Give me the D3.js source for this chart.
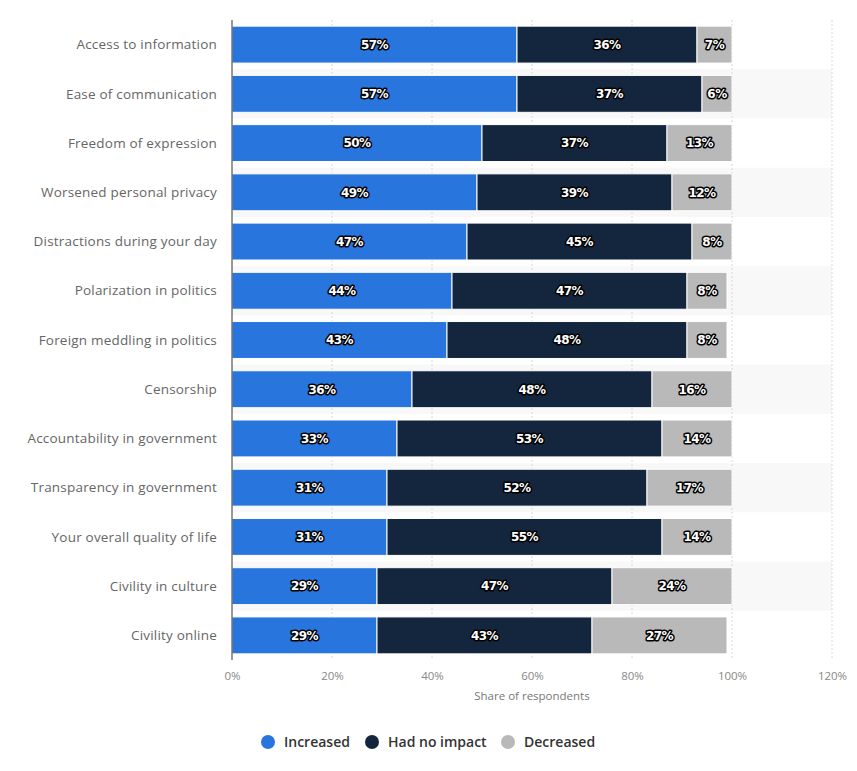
<!DOCTYPE html>
<html>
<head>
<meta charset="utf-8">
<script src="https://cdn.jsdelivr.net/npm/d3@7"></script>
<style>
  body { margin: 0; background: #fff; }
  .bar-label { font-family: "DejaVu Sans", sans-serif; font-weight: bold; font-size: 12px; fill: #fff;
    paint-order: stroke; stroke: #000; stroke-width: 3px; stroke-linejoin: round; letter-spacing: -0.5px; }
</style>
</head>
<body>
<div id="chart"></div>
<script>
const categories = ["Access to information", "Ease of communication", "Freedom of expression",
  "Worsened personal privacy", "Distractions during your day", "Polarization in politics",
  "Foreign meddling in politics", "Censorship", "Accountability in government",
  "Transparency in government", "Your overall quality of life", "Civility in culture", "Civility online"];
const increased = [57, 57, 50, 49, 47, 44, 43, 36, 33, 31, 31, 29, 29];
const noImpact = [36, 37, 37, 39, 45, 47, 48, 48, 53, 52, 55, 47, 43];
const decreased = [7, 6, 13, 12, 8, 8, 8, 16, 14, 17, 14, 24, 27];
const seriesNames = ["Increased", "Had no impact", "Decreased"];
const seriesColors = ["#2876dd", "#14263d", "#b9b9b9"];
const xTicks = [0, 20, 40, 60, 80, 100, 120];

const width = 857, height = 771;
const margin = { top: 20, right: 25, bottom: 111, left: 232 };
const innerW = width - margin.left - margin.right;
const innerH = height - margin.top - margin.bottom;

const rows = categories.map((c, i) => ({ name: c, inc: increased[i], none: noImpact[i], dec: decreased[i] }));
const stack = d3.stack().keys(["inc", "none", "dec"])(rows);

const svg = d3.select("#chart").append("svg")
  .attr("width", width).attr("height", height);
const g = svg.append("g").attr("transform", `translate(${margin.left},${margin.top})`);

const x = d3.scaleLinear().domain([0, 120]).range([0, innerW]);
const y = d3.scaleBand().domain(categories).range([0, innerH]).paddingInner(0.25).paddingOuter(0.125);
const rowStep = y.step();

// alternating row bands
g.selectAll(".band").data(categories.filter((d, i) => i % 2 == 1)).enter().append("rect")
  .attr("x", 0).attr("width", x(120))
  .attr("y", d => y(d) - y.step() * y.paddingInner() / 2)
  .attr("height", rowStep)
  .attr("fill", "#f8f8f8");

// grid
g.selectAll(".grid").data(xTicks.slice(1)).enter().append("line")
  .attr("x1", d => x(d)).attr("x2", d => x(d))
  .attr("y1", 0).attr("y2", innerH)
  .attr("stroke", "#d8d8d8").attr("stroke-dasharray", "2,2");

// bars
stack.forEach((layer, si) => {
  g.selectAll(".bar" + si).data(layer).enter().append("rect")
    .attr("x", d => x(d[0]))
    .attr("y", d => y(d.data.name))
    .attr("width", d => x(d[1]) - x(d[0]))
    .attr("height", y.bandwidth())
    .attr("fill", seriesColors[si])
    .attr("stroke", "#fff").attr("stroke-width", 1);
  g.selectAll(".lab" + si).data(layer).enter().append("text")
    .attr("class", "bar-label")
    .attr("x", d => x((d[0] + d[1]) / 2))
    .attr("y", d => y(d.data.name) + y.bandwidth() / 2)
    .attr("dy", "0.36em")
    .attr("text-anchor", "middle")
    .text(d => (d[1] - d[0]) + "%");
});

// y axis line + labels
g.append("line").attr("x1", 0).attr("x2", 0).attr("y1", 0).attr("y2", innerH)
  .attr("stroke", "#333").attr("stroke-width", 1);
g.selectAll(".cat").data(categories).enter().append("text")
  .attr("x", -15)
  .attr("y", d => y(d) + y.bandwidth() / 2)
  .attr("dy", "0.35em")
  .attr("text-anchor", "end")
  .attr("font-family", "'Open Sans', sans-serif")
  .attr("font-size", 13.5)
  .attr("letter-spacing", 0.2)
  .attr("fill", "#666")
  .text(d => d);

// x axis
const xAxis = g.append("g").attr("transform", `translate(0,${innerH})`)
  .call(d3.axisBottom(x).tickValues(xTicks).tickFormat(d => d + "%").tickSize(0).tickPadding(12));
xAxis.select(".domain").remove();
xAxis.selectAll("text").attr("font-family", "'Open Sans', sans-serif").attr("font-size", 11.5).attr("fill", "#888");

g.append("text")
  .attr("x", x(60)).attr("y", innerH + 40)
  .attr("text-anchor", "middle")
  .attr("font-family", "'Open Sans', sans-serif").attr("font-size", 11.5).attr("fill", "#777")
  .text("Share of respondents");

// legend
const legendX = [268, 372, 508];
const legend = svg.append("g").attr("transform", "translate(0,742)");
seriesNames.forEach((s, i) => {
  const lg = legend.append("g").attr("transform", `translate(${legendX[i]},0)`);
  lg.append("circle").attr("r", 7).attr("fill", seriesColors[i]);
  lg.append("text").attr("x", 16).attr("dy", "0.35em")
    .attr("font-family", "'Open Sans', sans-serif").attr("font-size", 14).attr("font-weight", 600)
    .attr("fill", "#333").text(s);
});
</script>
</body>
</html>
